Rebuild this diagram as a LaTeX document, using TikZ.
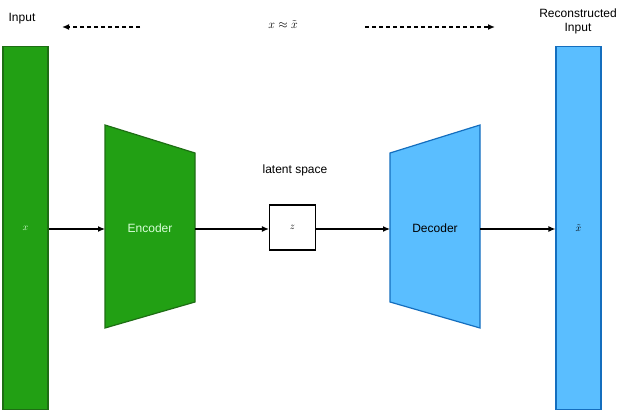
\documentclass[tikz,border=0pt]{standalone}
\usepackage{fontspec}
\setmainfont{Liberation Sans}
\usetikzlibrary{arrows.meta}
\definecolor{gfill}{RGB}{34,160,20}
\definecolor{gdraw}{RGB}{30,110,20}
\definecolor{bfill}{RGB}{90,190,255}
\definecolor{bdraw}{RGB}{20,110,190}
\begin{document}
\begin{tikzpicture}[x=1pt,y=-1pt,
  gshape/.style={fill=gfill,draw=gdraw,line width=1.2pt},
  bshape/.style={fill=bfill,draw=bdraw,line width=1.2pt},
  conn/.style={-{Latex[length=7pt,width=6pt]},line width=1.2pt},
  dconn/.style={-{Latex[length=7pt,width=6pt]},line width=1.4pt,dash pattern=on 4pt off 3pt},
  lbl/.style={font=\fontsize{12}{14}\selectfont}]
\useasboundingbox (0,0) rectangle (640,411);
\node[gshape,minimum width=45pt,minimum height=363pt,inner sep=0pt] (in) at (25.5,228) {};
\node[text=white!85!green] at (in) {$x$};
\draw[gshape] (105,125) -- (195,153) -- (195,302) -- (105,328) -- cycle;
\node[lbl,text=white!85!green] (enc) at (150,228) {Encoder};
\coordinate (encL) at (105,229); \coordinate (encR) at (195,229);
\node[draw,line width=1.2pt,minimum width=46pt,minimum height=45pt,inner sep=0pt] (z) at (292.5,227.5) {$z$};
\node[lbl] at (295,170) {latent space};
\draw[bshape] (390,153) -- (480,125) -- (480,328) -- (390,302) -- cycle;
\node[lbl] (dec) at (435,228) {Decoder};
\coordinate (decL) at (390,229); \coordinate (decR) at (480,229);
\node[bshape,minimum width=45pt,minimum height=363pt,inner sep=0pt] (out) at (578.5,228) {};
\node at (out) {$\tilde{x}$};
\draw[conn] (in.east |- encL) -- (encL);
\draw[conn] (encR) -- (z.west |- encR);
\draw[conn] (z.east |- decL) -- (decL);
\draw[conn] (decR) -- (out.west |- decR);
\node[lbl] (inl) at (22,19) {Input};
\node[lbl,align=center,inner sep=0pt] (rec) at (578,21) {Reconstructed\\Input};
\node[font=\fontsize{13}{15}\selectfont] (eq) at (283,25) {$x\approx\tilde{x}$};
\coordinate (d1) at (140,27); \coordinate (d1e) at (62,27);
\coordinate (d2) at (365,27); \coordinate (d2e) at (495,27);
\draw[dconn] (d1) -- (d1e);
\draw[dconn] (d2) -- (d2e);
\end{tikzpicture}
\end{document}
